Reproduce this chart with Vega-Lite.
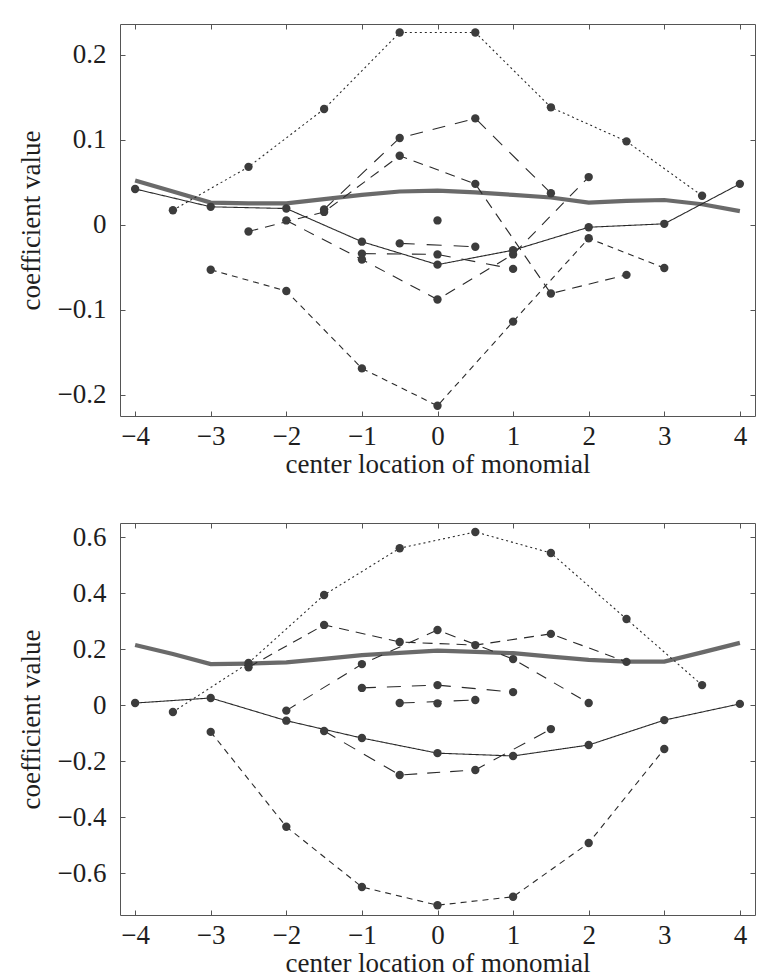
{
  "$schema": "https://vega.github.io/schema/vega-lite/v6.json",
  "padding": {"left": 16, "top": 23, "right": 4, "bottom": 0},
  "background": "white",
  "spacing": 44,
  "config": {
    "view": {"stroke": "#555", "strokeWidth": 1},
    "font": "Liberation Serif",
    "axis": {
      "labelFont": "Liberation Serif",
      "titleFont": "Liberation Serif",
      "labelFontSize": 27,
      "titleFontSize": 27,
      "titleFontWeight": "normal",
      "labelColor": "#1e1e1e",
      "titleColor": "#1e1e1e",
      "domain": false,
      "grid": false,
      "tickColor": "#555",
      "tickSize": -5,
      "tickWidth": 1
    }
  },
  "datasets": {
    "top": [
      {"s": "ref", "x": -4, "y": 0.052}, {"s": "ref", "x": -3.5, "y": 0.039}, {"s": "ref", "x": -3, "y": 0.026}, {"s": "ref", "x": -2.5, "y": 0.025}, {"s": "ref", "x": -2, "y": 0.025}, {"s": "ref", "x": -1.5, "y": 0.03}, {"s": "ref", "x": -1, "y": 0.035}, {"s": "ref", "x": -0.5, "y": 0.039}, {"s": "ref", "x": 0, "y": 0.04}, {"s": "ref", "x": 0.5, "y": 0.038}, {"s": "ref", "x": 1, "y": 0.035}, {"s": "ref", "x": 1.5, "y": 0.032}, {"s": "ref", "x": 2, "y": 0.026}, {"s": "ref", "x": 2.5, "y": 0.028}, {"s": "ref", "x": 3, "y": 0.029}, {"s": "ref", "x": 3.5, "y": 0.024}, {"s": "ref", "x": 4, "y": 0.016},
      {"s": "n9", "x": -4, "y": 0.042}, {"s": "n9", "x": -3, "y": 0.021}, {"s": "n9", "x": -2, "y": 0.019}, {"s": "n9", "x": -1, "y": -0.02}, {"s": "n9", "x": 0, "y": -0.047}, {"s": "n9", "x": 1, "y": -0.03}, {"s": "n9", "x": 2, "y": -0.003}, {"s": "n9", "x": 3, "y": 0.001}, {"s": "n9", "x": 4, "y": 0.048},
      {"s": "n8", "x": -3.5, "y": 0.017}, {"s": "n8", "x": -2.5, "y": 0.068}, {"s": "n8", "x": -1.5, "y": 0.136}, {"s": "n8", "x": -0.5, "y": 0.226}, {"s": "n8", "x": 0.5, "y": 0.226}, {"s": "n8", "x": 1.5, "y": 0.138}, {"s": "n8", "x": 2.5, "y": 0.098}, {"s": "n8", "x": 3.5, "y": 0.034},
      {"s": "n7", "x": -3, "y": -0.053}, {"s": "n7", "x": -2, "y": -0.078}, {"s": "n7", "x": -1, "y": -0.169}, {"s": "n7", "x": 0, "y": -0.213}, {"s": "n7", "x": 1, "y": -0.114}, {"s": "n7", "x": 2, "y": -0.016}, {"s": "n7", "x": 3, "y": -0.051},
      {"s": "n6", "x": -2.5, "y": -0.008}, {"s": "n6", "x": -1.5, "y": 0.015}, {"s": "n6", "x": -0.5, "y": 0.081}, {"s": "n6", "x": 0.5, "y": 0.048}, {"s": "n6", "x": 1.5, "y": -0.081}, {"s": "n6", "x": 2.5, "y": -0.059},
      {"s": "n5", "x": -2, "y": 0.005}, {"s": "n5", "x": -1, "y": -0.041}, {"s": "n5", "x": 0, "y": -0.088}, {"s": "n5", "x": 1, "y": -0.035}, {"s": "n5", "x": 2, "y": 0.056},
      {"s": "n4", "x": -1.5, "y": 0.018}, {"s": "n4", "x": -0.5, "y": 0.102}, {"s": "n4", "x": 0.5, "y": 0.125}, {"s": "n4", "x": 1.5, "y": 0.037},
      {"s": "n3", "x": -1, "y": -0.034}, {"s": "n3", "x": 0, "y": -0.035}, {"s": "n3", "x": 1, "y": -0.052},
      {"s": "n2", "x": -0.5, "y": -0.022}, {"s": "n2", "x": 0.5, "y": -0.026},
      {"s": "n1", "x": 0, "y": 0.005}
    ],
    "bottom": [
      {"s": "ref", "x": -4, "y": 0.214}, {"s": "ref", "x": -3.5, "y": 0.182}, {"s": "ref", "x": -3, "y": 0.146}, {"s": "ref", "x": -2.5, "y": 0.148}, {"s": "ref", "x": -2, "y": 0.152}, {"s": "ref", "x": -1.5, "y": 0.165}, {"s": "ref", "x": -1, "y": 0.178}, {"s": "ref", "x": -0.5, "y": 0.186}, {"s": "ref", "x": 0, "y": 0.194}, {"s": "ref", "x": 0.5, "y": 0.19}, {"s": "ref", "x": 1, "y": 0.185}, {"s": "ref", "x": 1.5, "y": 0.173}, {"s": "ref", "x": 2, "y": 0.161}, {"s": "ref", "x": 2.5, "y": 0.155}, {"s": "ref", "x": 3, "y": 0.155}, {"s": "ref", "x": 3.5, "y": 0.188}, {"s": "ref", "x": 4, "y": 0.222},
      {"s": "n9", "x": -4, "y": 0.007}, {"s": "n9", "x": -3, "y": 0.025}, {"s": "n9", "x": -2, "y": -0.056}, {"s": "n9", "x": -1, "y": -0.118}, {"s": "n9", "x": 0, "y": -0.172}, {"s": "n9", "x": 1, "y": -0.182}, {"s": "n9", "x": 2, "y": -0.143}, {"s": "n9", "x": 3, "y": -0.054}, {"s": "n9", "x": 4, "y": 0.004},
      {"s": "n8", "x": -3.5, "y": -0.025}, {"s": "n8", "x": -2.5, "y": 0.15}, {"s": "n8", "x": -1.5, "y": 0.393}, {"s": "n8", "x": -0.5, "y": 0.56}, {"s": "n8", "x": 0.5, "y": 0.618}, {"s": "n8", "x": 1.5, "y": 0.543}, {"s": "n8", "x": 2.5, "y": 0.307}, {"s": "n8", "x": 3.5, "y": 0.071},
      {"s": "n7", "x": -3, "y": -0.096}, {"s": "n7", "x": -2, "y": -0.435}, {"s": "n7", "x": -1, "y": -0.65}, {"s": "n7", "x": 0, "y": -0.715}, {"s": "n7", "x": 1, "y": -0.685}, {"s": "n7", "x": 2, "y": -0.493}, {"s": "n7", "x": 3, "y": -0.157},
      {"s": "n6", "x": -2.5, "y": 0.135}, {"s": "n6", "x": -1.5, "y": 0.286}, {"s": "n6", "x": -0.5, "y": 0.225}, {"s": "n6", "x": 0.5, "y": 0.214}, {"s": "n6", "x": 1.5, "y": 0.254}, {"s": "n6", "x": 2.5, "y": 0.154},
      {"s": "n5", "x": -2, "y": -0.02}, {"s": "n5", "x": -1, "y": 0.146}, {"s": "n5", "x": 0, "y": 0.268}, {"s": "n5", "x": 1, "y": 0.164}, {"s": "n5", "x": 2, "y": 0.007},
      {"s": "n4", "x": -1.5, "y": -0.093}, {"s": "n4", "x": -0.5, "y": -0.25}, {"s": "n4", "x": 0.5, "y": -0.232}, {"s": "n4", "x": 1.5, "y": -0.086},
      {"s": "n3", "x": -1, "y": 0.061}, {"s": "n3", "x": 0, "y": 0.071}, {"s": "n3", "x": 1, "y": 0.046},
      {"s": "n2", "x": -0.5, "y": 0.007}, {"s": "n2", "x": 0.5, "y": 0.018},
      {"s": "n1", "x": 0, "y": 0.006}
    ]
  },
  "vconcat": [
    {
      "width": 635,
      "height": 392,
      "data": {"name": "top"},
      "resolve": {"axis": {"x": "independent", "y": "independent"}},
      "layer": [
        {
          "transform": [{"filter": "datum.s == 'ref'"}],
          "mark": {"type": "line", "stroke": "#5a5a5a", "strokeWidth": 4.2, "opacity": 0.9},
          "encoding": {
            "x": {"field": "x", "type": "quantitative", "scale": {"domain": [-4.2, 4.2], "nice": false, "zero": false},
                  "axis": {"orient": "bottom", "values": [-4, -3, -2, -1, 0, 1, 2, 3, 4], "title": "center location of monomial", "labelPadding": 12, "titlePadding": 2}},
            "y": {"field": "y", "type": "quantitative", "scale": {"domain": [-0.225, 0.236], "nice": false, "zero": false},
                  "axis": {"orient": "left", "values": [-0.2, -0.1, 0, 0.1, 0.2], "labelExpr": "datum.value == 0 ? '0' : datum.label", "title": "coefficient value", "labelPadding": 19, "titlePadding": 12}}
          }
        },
        {
          "transform": [{"filter": "datum.s != 'ref'"}],
          "mark": {"type": "line", "stroke": "#2a2a2a", "strokeWidth": 1.1},
          "encoding": {
            "x": {"field": "x", "type": "quantitative", "axis": {"orient": "top", "values": [-4, -3, -2, -1, 0, 1, 2, 3, 4], "labels": false, "title": null}},
            "y": {"field": "y", "type": "quantitative", "axis": {"orient": "right", "values": [-0.2, -0.1, 0, 0.1, 0.2], "labels": false, "title": null}},
            "detail": {"field": "s"},
            "strokeDash": {"field": "s", "type": "nominal", "legend": null,
              "scale": {"domain": ["n9", "n8", "n7", "n6", "n5", "n4", "n3", "n2", "n1"],
                        "range": [[1, 0], [2, 3], [6, 5], [10, 7], [11, 9], [13, 10], [14, 11], [15, 12], [1, 0]]}}
          }
        },
        {
          "transform": [{"filter": "datum.s != 'ref'"}],
          "mark": {"type": "circle", "size": 70, "fill": "#3c3c3c", "opacity": 1},
          "encoding": {
            "x": {"field": "x", "type": "quantitative", "axis": null},
            "y": {"field": "y", "type": "quantitative", "axis": null}
          }
        }
      ]
    },
    {
      "width": 635,
      "height": 392,
      "data": {"name": "bottom"},
      "resolve": {"axis": {"x": "independent", "y": "independent"}},
      "layer": [
        {
          "transform": [{"filter": "datum.s == 'ref'"}],
          "mark": {"type": "line", "stroke": "#5a5a5a", "strokeWidth": 4.2, "opacity": 0.9},
          "encoding": {
            "x": {"field": "x", "type": "quantitative", "scale": {"domain": [-4.2, 4.2], "nice": false, "zero": false},
                  "axis": {"orient": "bottom", "values": [-4, -3, -2, -1, 0, 1, 2, 3, 4], "title": "center location of monomial", "labelPadding": 12, "titlePadding": 2}},
            "y": {"field": "y", "type": "quantitative", "scale": {"domain": [-0.75, 0.65], "nice": false, "zero": false},
                  "axis": {"orient": "left", "values": [-0.6, -0.4, -0.2, 0, 0.2, 0.4, 0.6], "labelExpr": "datum.value == 0 ? '0' : datum.label", "title": "coefficient value", "labelPadding": 19, "titlePadding": 12}}
          }
        },
        {
          "transform": [{"filter": "datum.s != 'ref'"}],
          "mark": {"type": "line", "stroke": "#2a2a2a", "strokeWidth": 1.1},
          "encoding": {
            "x": {"field": "x", "type": "quantitative", "axis": {"orient": "top", "values": [-4, -3, -2, -1, 0, 1, 2, 3, 4], "labels": false, "title": null}},
            "y": {"field": "y", "type": "quantitative", "axis": {"orient": "right", "values": [-0.6, -0.4, -0.2, 0, 0.2, 0.4, 0.6], "labels": false, "title": null}},
            "detail": {"field": "s"},
            "strokeDash": {"field": "s", "type": "nominal", "legend": null,
              "scale": {"domain": ["n9", "n8", "n7", "n6", "n5", "n4", "n3", "n2", "n1"],
                        "range": [[1, 0], [2, 3], [6, 5], [10, 7], [11, 9], [13, 10], [14, 11], [15, 12], [1, 0]]}}
          }
        },
        {
          "transform": [{"filter": "datum.s != 'ref'"}],
          "mark": {"type": "circle", "size": 70, "fill": "#3c3c3c", "opacity": 1},
          "encoding": {
            "x": {"field": "x", "type": "quantitative", "axis": null},
            "y": {"field": "y", "type": "quantitative", "axis": null}
          }
        }
      ]
    }
  ]
}
